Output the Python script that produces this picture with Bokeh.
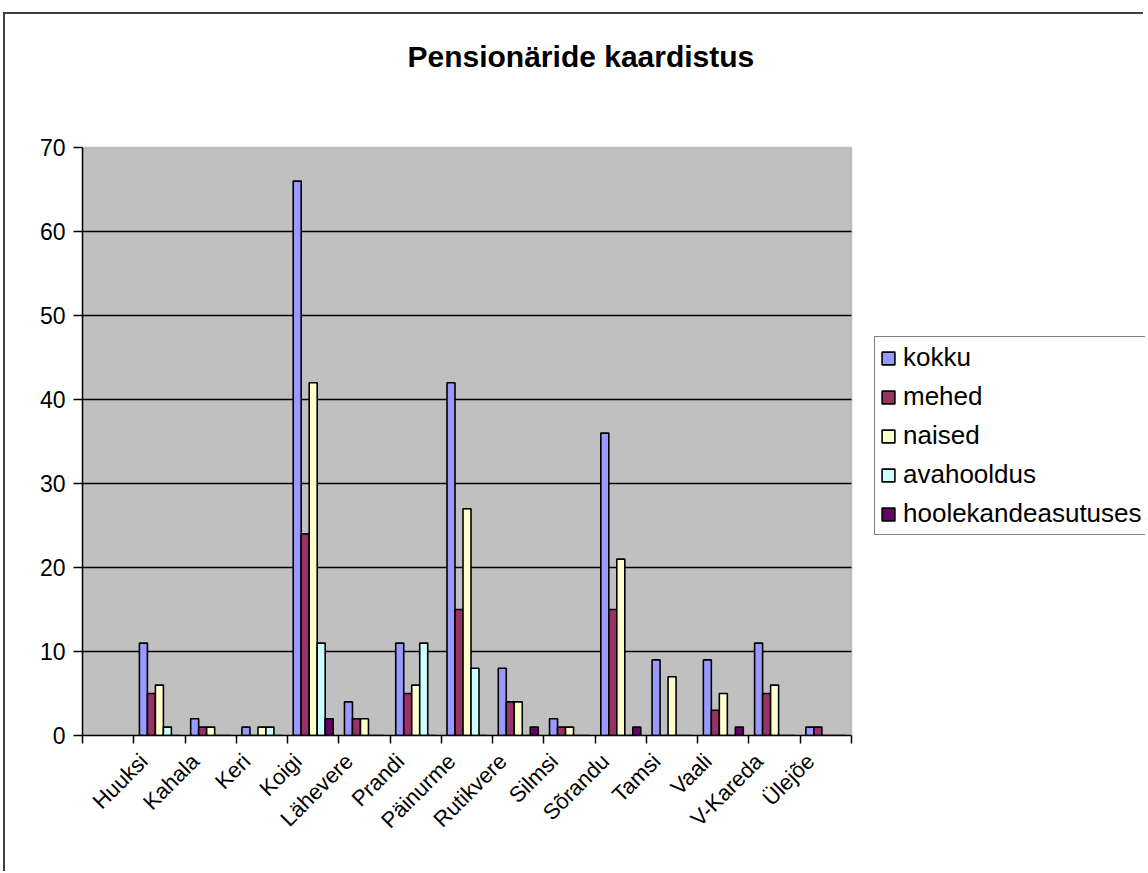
import numpy as np
from bokeh.plotting import figure
from bokeh.models import (ColumnDataSource, FixedTicker, Range1d, Legend, LegendItem,
                          BoxAnnotation, Label)
from bokeh.embed import file_html
from bokeh.resources import INLINE

categories = ["Huuksi", "Kahala", "Keri", "Koigi", "Lähevere", "Prandi", "Päinurme",
              "Rutikvere", "Silmsi", "Sõrandu", "Tamsi", "Vaali", "V-Kareda", "Ülejõe"]
kokku = [11, 2, 1, 66, 4, 11, 42, 8, 2, 36, 9, 9, 11, 1]
mehed = [5, 1, 0, 24, 2, 5, 15, 4, 1, 15, 0, 3, 5, 1]
naised = [6, 1, 1, 42, 2, 6, 27, 4, 1, 21, 7, 5, 6, 0]
avahooldus = [1, 0, 1, 11, 0, 11, 8, 0, 0, 0, 0, 0, 0, 0]
hoolekandeasutuses = [0, 0, 0, 2, 0, 0, 0, 1, 0, 1, 0, 1, 0, 0]
y_ticks = [0, 10, 20, 30, 40, 50, 60, 70]
title_text = "Pensionäride kaardistus"

series = [("kokku", kokku, "#9999FF"),
          ("mehed", mehed, "#993366"),
          ("naised", naised, "#FFFFCC"),
          ("avahooldus", avahooldus, "#CCFFFF"),
          ("hoolekandeasutuses", hoolekandeasutuses, "#660066")]

FONT = "Liberation Sans"
n = len(categories)
slots = n + 1                      # first slot of the category axis is empty
centers = np.arange(n) + 1.5
bw = 0.156
label_pos = centers - 0.3
ymax = y_ticks[-1]

# frame extends to the right and top so the legend and title can sit inside it
px_per_slot = (852 - 83) / slots
x_end = (1146 - 83) / px_per_slot
px_per_unit = (735 - 147) / ymax
y_end = (735 - 14) / px_per_unit

p = figure(width=1140, height=859, output_backend="svg", toolbar_location=None, title=None,
           x_range=Range1d(0, x_end), y_range=Range1d(0, y_end),
           min_border_left=77, min_border_right=0, min_border_top=0, min_border_bottom=138)

p.background_fill_color = "white"
p.border_fill_color = "white"
p.outline_line_color = None
p.xgrid.grid_line_color = None
p.ygrid.grid_line_color = None

# plot area
p.add_layout(BoxAnnotation(left=0, right=slots, bottom=0, top=ymax, fill_color="#C0C0C0",
                           fill_alpha=1.0, line_color="#808080", line_width=2, level="underlay"))
grid_y = y_ticks[1:-1]
p.segment(x0=[0] * len(grid_y), x1=[slots] * len(grid_y), y0=grid_y, y1=grid_y,
          line_color="black", line_width=1.5)

items = []
for k, (name, vals, col) in enumerate(series):
    src = ColumnDataSource(dict(x=centers + (k - 2) * bw, top=vals))
    r = p.vbar(x="x", top="top", width=bw, source=src, fill_color=col,
               line_color="black", line_width=1.6)
    items.append(LegendItem(label=name, renderers=[r]))

# axes
p.xaxis.bounds = (0, slots)
p.xaxis.ticker = FixedTicker(ticks=list(label_pos), minor_ticks=list(range(0, slots + 1)))
p.xaxis.major_label_overrides = {float(c): lab for c, lab in zip(label_pos, categories)}
p.xaxis.major_tick_out = 0
p.xaxis.major_tick_in = 0
p.xaxis.minor_tick_out = 8
p.xaxis.minor_tick_in = 0
p.xaxis.minor_tick_line_color = "black"
p.xaxis.minor_tick_line_width = 1.5
p.xaxis.axis_line_color = "black"
p.xaxis.axis_line_width = 1.5
p.xaxis.major_label_orientation = np.pi / 4
p.xaxis.major_label_text_font = FONT
p.xaxis.major_label_text_font_size = "22px"
p.xaxis.major_label_text_color = "black"
p.xaxis.major_label_standoff = 14

p.yaxis.bounds = (0, ymax)
p.yaxis.ticker = FixedTicker(ticks=y_ticks)
p.yaxis.minor_tick_line_color = None
p.yaxis.major_tick_out = 9
p.yaxis.major_tick_in = 0
p.yaxis.major_tick_line_color = "black"
p.yaxis.major_tick_line_width = 1.5
p.yaxis.axis_line_color = "black"
p.yaxis.axis_line_width = 1.5
p.yaxis.major_label_text_font = FONT
p.yaxis.major_label_text_font_size = "23px"
p.yaxis.major_label_text_color = "black"
p.yaxis.major_label_standoff = 8

# title
p.add_layout(Label(x=(408 - 83) / px_per_slot, y=(735 - 56) / px_per_unit, text=title_text,
                   text_font=FONT, text_font_style="bold", text_font_size="30px",
                   text_color="black", text_align="left", text_baseline="middle"))

legend = Legend(items=items, location=(792, 200), orientation="vertical")
legend.label_text_font = FONT
legend.label_text_font_size = "26px"
legend.label_text_color = "black"
legend.glyph_width = 16
legend.glyph_height = 16
legend.label_standoff = 7
legend.spacing = 8
legend.padding = 5
legend.margin = 0
legend.label_height = 30
legend.border_line_color = "black"
legend.border_line_width = 1.5
legend.background_fill_color = "white"
legend.background_fill_alpha = 1.0
p.add_layout(legend, "center")

p.styles = {"border-left": "2px solid #404040", "border-top": "2px solid #404040",
            "margin-top": "12px", "margin-left": "3px"}

open("out.html", "w").write(file_html(p, INLINE))
